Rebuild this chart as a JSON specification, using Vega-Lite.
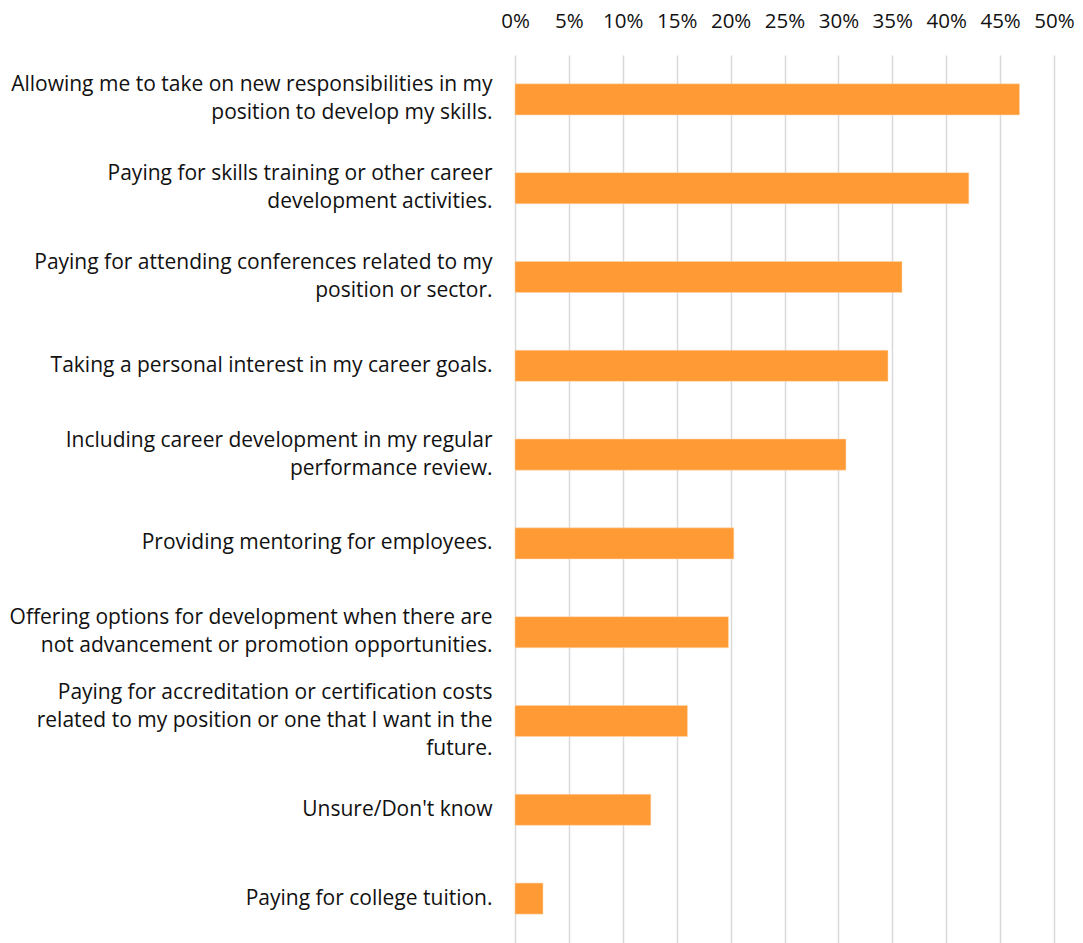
{
  "$schema": "https://vega.github.io/schema/vega-lite/v6.json",
  "width": 539,
  "height": 888,
  "autosize": {"type": "none"},
  "padding": {"left": 515, "top": 55, "right": 29, "bottom": 0},
  "background": "white",
  "data": {"values": [
    {"item": "Allowing me to take on new responsibilities in my|position to develop my skills.", "pct": 0.468},
    {"item": "Paying for skills training or other career|development activities.", "pct": 0.421},
    {"item": "Paying for attending conferences related to my|position or sector.", "pct": 0.359},
    {"item": "Taking a personal interest in my career goals.", "pct": 0.346},
    {"item": "Including career development in my regular|performance review.", "pct": 0.307},
    {"item": "Providing mentoring for employees.", "pct": 0.203},
    {"item": "Offering options for development when there are|not advancement or promotion opportunities.", "pct": 0.198},
    {"item": "Paying for accreditation or certification costs|related to my position or one that I want in the|future.", "pct": 0.160},
    {"item": "Unsure/Don't know", "pct": 0.126},
    {"item": "Paying for college tuition.", "pct": 0.026}
  ]},
  "mark": {"type": "bar", "color": "#FF9A35", "stroke": "#FFD9B0", "strokeWidth": 0.5},
  "encoding": {
    "y": {
      "field": "item", "type": "nominal", "sort": null,
      "scale": {"paddingInner": 0.65, "paddingOuter": 0.325},
      "axis": {
        "title": null, "domain": false, "ticks": false,
        "labelExpr": "split(datum.label, '|')",
        "labelFont": "Open Sans", "labelFontSize": 21, "labelColor": "#111111",
        "labelLimit": 600, "labelPadding": 23, "labelLineHeight": 28,
        "labelOffset": {"condition": [
          {"test": "length(split(datum.value, '|')) == 3", "value": -28},
          {"test": "length(split(datum.value, '|')) == 2", "value": -14}
        ], "value": 0}
      }
    },
    "x": {
      "field": "pct", "type": "quantitative",
      "scale": {"domain": [0, 0.5], "nice": false},
      "axis": {
        "orient": "top", "title": null, "format": ".0%", "values": [0,0.05,0.1,0.15,0.2,0.25,0.3,0.35,0.4,0.45,0.5],
        "domain": false, "ticks": false,
        "grid": true, "gridColor": "#D9D9D9", "gridWidth": 1.5,
        "labelFont": "Open Sans", "labelFontSize": 20.5, "labelColor": "#111111", "labelPadding": 24,
        "labelFlush": false
      }
    }
  },
  "config": {"view": {"stroke": null}}
}
